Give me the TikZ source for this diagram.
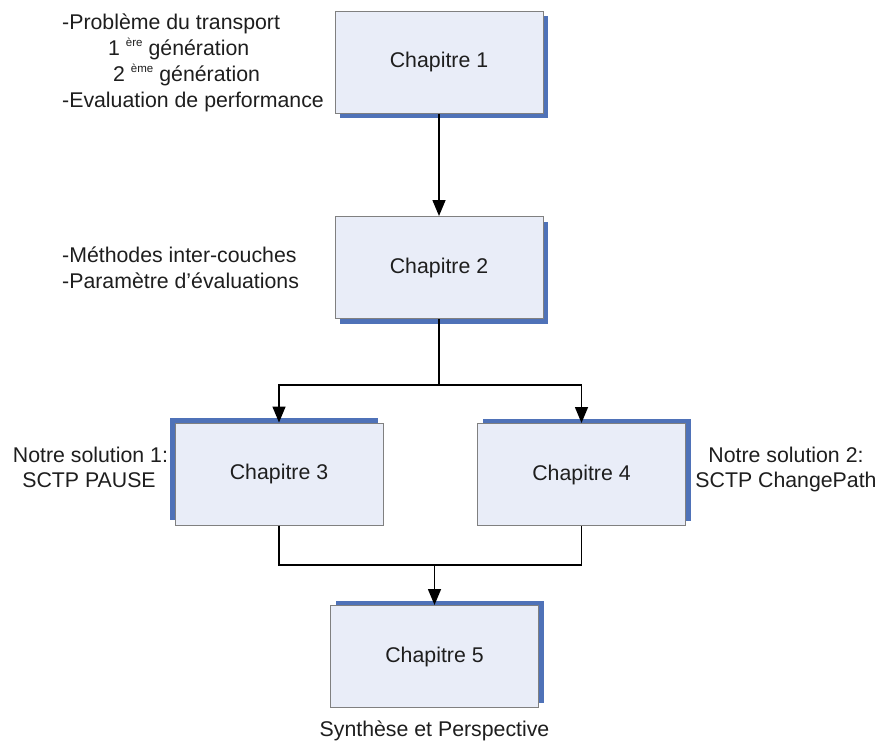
\documentclass[tikz,border=0pt]{standalone}
\usepackage{fontspec}
\setmainfont{Liberation Sans}
\usetikzlibrary{arrows.meta,shadows}
\definecolor{boxfill}{RGB}{233,237,248}
\definecolor{boxline}{RGB}{128,128,128}
\definecolor{shade}{RGB}{79,114,184}
\definecolor{ink}{RGB}{30,30,30}
% small raised ordinal suffix (ère, ème)
\newcommand{\ordsuffix}[1]{\raisebox{8.5pt}{\fontsize{11.5}{12}\selectfont #1}\hspace{6pt}}

\begin{document}
\begin{tikzpicture}[x=1pt,y=-1pt,
  font=\fontsize{21.3}{25}\selectfont, text=ink,
  chapbox/.style={draw=boxline, line width=1pt, fill=boxfill,
    minimum width=208pt, minimum height=102pt, inner sep=0pt},
  shadeBR/.style={general shadow={fill=shade, shadow xshift=5pt, shadow yshift=-5pt}},
  shadeTL/.style={general shadow={fill=shade, shadow xshift=-5pt, shadow yshift=5pt}},
  shadeTR/.style={general shadow={fill=shade, shadow xshift=5pt, shadow yshift=5pt}},
  link/.style={draw=black, line width=1.5pt},
  arrow/.style={link, -{Triangle[length=16pt,width=13pt]}},
  note/.style={inner sep=0pt, anchor=base west},
  cnote/.style={inner sep=0pt, anchor=base}]

\useasboundingbox[fill=white] (0,0) rectangle (880,742);

% chapter boxes
\node[chapbox, shadeBR] (ch1) at (439,62)    {Chapitre 1};
\node[chapbox, shadeBR] (ch2) at (439,267.5) {Chapitre 2};
\node[chapbox, shadeTL] (ch3) at (279,474)   {Chapitre 3};
\node[chapbox, shadeTR] (ch4) at (581.5,474.5) {Chapitre 4};
\node[chapbox, shadeTR] (ch5) at (434.5,656.5) {Chapitre 5};

% connectors
\coordinate (split) at (439,385);
\coordinate (merge) at (434.5,565);
\draw[arrow] (ch1.south) -- (ch2.north);
\draw[link] (ch2.south) -- (split);
\draw[arrow] (split) -| (ch3.north);
\draw[arrow] (split) -| (ch4.north);
\draw[link] (ch3.south) |- (merge);
\draw[link] (ch4.south) |- (merge);
\draw[arrow] (merge) -- (ch5.north);

% notes beside chapter 1
\node[note] (n1a) at (62,29)  {-Problème du transport};
\node[note] (n1b) at (108,55) {1 \ordsuffix{ère}génération};
\node[note] (n1c) at (113,81) {2 \ordsuffix{ème}génération};
\node[note] (n1d) at (62,107) {-Evaluation de performance};

% notes beside chapter 2
\node[note] (n2a) at (62,262) {-Méthodes inter-couches};
\node[note] (n2b) at (62,288) {-Paramètre d’évaluations};

% solutions
\node[cnote] (s1a) at (90.5,462) {Notre solution 1:};
\node[cnote] (s1b) at (89,487)   {SCTP PAUSE};
\node[cnote] (s2a) at (786,462)  {Notre solution 2:};
\node[cnote] (s2b) at (786,487)  {SCTP ChangePath};

% caption under chapter 5
\node[cnote] (syn) at (434.5,736) {Synthèse et Perspective};
\end{tikzpicture}
\end{document}
